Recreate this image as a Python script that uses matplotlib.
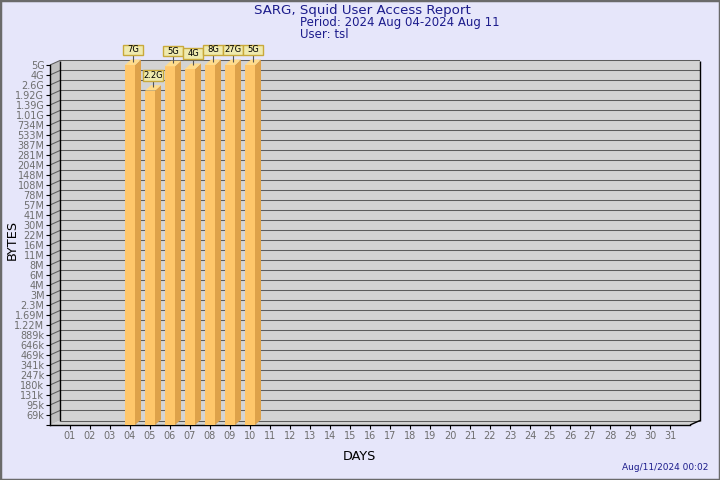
import numpy as np
import matplotlib
matplotlib.use('Agg')
import matplotlib.pyplot as plt
from matplotlib.patches import Polygon, Rectangle
from matplotlib.transforms import IdentityTransform
from matplotlib.ticker import NullLocator

# data
days = list(range(1, 32))
day_labels = ['%02d' % d for d in days]
bar_days = [4, 5, 6, 7, 8, 9, 10]
bar_bytes = [7.0e9, 2.2e9, 4.8e9, 4.4e9, 8.0e9, 27.0e9, 5.2e9]
bar_labels = ['7G', '2.2G', '5G', '4G', '8G', '27G', '5G']
y_labels = ['69k', '95k', '131k', '180k', '247k', '341k', '469k', '646k', '889k',
            '1.22M', '1.69M', '2.3M', '3M', '4M', '6M', '8M', '11M', '16M', '22M',
            '30M', '41M', '57M', '78M', '108M', '148M', '204M', '281M', '387M',
            '533M', '734M', '1.01G', '1.39G', '1.92G', '2.6G', '4G', '5G']

W, H = 720, 480
bg = '#e6e6fa'
navy = '#1c1c8c'
grid_c = '#5c5c5c'
wall_c = '#d3d3d3'
side_c = '#bfbfbf'
front_c = '#ffc76b'
dark_c = '#dea24a'
top_c = '#ffdc8c'
DX, DY = 10, 4.5      # depth of the box
BX, BY = 6, 5.5       # depth of the bars

fig = plt.figure(figsize=(7.2, 4.8), dpi=100, facecolor=bg)
ax = fig.add_axes([50 / W, (H - 425) / H, 640 / W, 360 / H])
ax.patch.set_visible(False)

yticks = np.geomspace(69e3, 5.0e9, len(y_labels))
ratio = yticks[1] / yticks[0]
lo, hi = yticks[0] / ratio, yticks[-1]
ax.set_yscale('log')
ax.set_xlim(0, 32)
ax.set_ylim(lo, hi)
ax.yaxis.set_minor_locator(NullLocator())
ax.set_yticks(list(yticks) + [lo], y_labels + [''])
ax.set_xticks(days, day_labels)
ax.tick_params(axis='y', length=3, width=0.8, pad=1, labelsize=7, labelcolor='#6e6e6e')
ax.tick_params(axis='x', length=3, width=0.8, pad=1.2, labelsize=7, labelcolor='#6e6e6e')
for s in ['top', 'right']:
    ax.spines[s].set_visible(False)
for s in ['left', 'bottom']:
    ax.spines[s].set_linewidth(1)
    ax.spines[s].set_zorder(2.5)

ident = IdentityTransform()


def poly(pts, fc, ec='none', lw=0.8, z=1):
    ax.add_patch(Polygon(pts, closed=True, facecolor=fc, edgecolor=ec, lw=lw,
                         transform=ident, clip_on=False, zorder=z))


def line(xs, ys, c=grid_c, lw=0.75, z=1.2):
    ax.plot(xs, ys, color=c, lw=lw, transform=ident, clip_on=False, zorder=z,
            solid_capstyle='butt')


(x0, y0) = ax.transAxes.transform((0, 0))
(x1, y1) = ax.transAxes.transform((1, 1))

# back wall, side wall, floor
poly([(x0 + DX, y0 + DY), (x1 + DX, y0 + DY), (x1 + DX, y1 + DY), (x0 + DX, y1 + DY)], wall_c, z=0.5)
poly([(x0, y0), (x0 + DX, y0 + DY), (x0 + DX, y1 + DY), (x0, y1)], side_c, z=0.6)
poly([(x0, y0), (x1, y0), (x1 + DX, y0 + DY), (x0 + DX, y0 + DY)], wall_c, z=0.7)

for t in yticks:
    yy = ax.transData.transform((0, t))[1]
    line([x0, x0 + DX, x1 + DX], [yy, yy + DY, yy + DY])
line([x0 + DX, x0 + DX], [y0 + DY, y1 + DY], c='black', lw=1)
line([x1 + DX, x1 + DX], [y0 + DY, y1 + DY], c='black', lw=1)
line([x0 + DX, x1 + DX], [y0 + DY, y0 + DY])
line([x1, x1 + DX], [y0, y0 + DY], c='black', lw=1, z=2.5)

# bars
heights = [min(v, hi) - lo for v in bar_bytes]
bars = ax.bar(bar_days, heights, bottom=lo, width=0.5, color=front_c,
              edgecolor='none', zorder=3)
for b, lab in zip(bars, bar_labels):
    (bl, bb), (br, bt) = b.get_window_extent().get_points()
    poly([(br, bb), (br + BX, bb + BY), (br + BX, bt + BY), (br, bt)], dark_c, z=3)
    poly([(bl, bt), (br, bt), (br + BX, bt + BY), (bl + BX, bt + BY)], top_c, z=3)
    cx = (bl + br) / 2 + BX / 2
    ytop = bt + BY
    bw, bh = 20, 10.5
    ybox = ytop + 4.5
    line([cx, cx], [ytop - 2, ybox], c='#555555', lw=0.8, z=3.5)
    ax.add_patch(Rectangle((cx - bw / 2, ybox), bw, bh, facecolor='#efeaae',
                           edgecolor='#c9a93a', lw=1, transform=ident,
                           clip_on=False, zorder=4))
    ax.text(cx, ybox + bh / 2, lab, transform=ident, ha='center', va='center',
            fontsize=6, color='black', zorder=5)

# texts
fig.text(362 / W, 1 - 10.5 / H, 'SARG, Squid User Access Report', ha='center',
         va='center', fontsize=9.6, color=navy)
fig.text(300 / W, 1 - 28.5 / H, 'Period: 2024 Aug 04-2024 Aug 11\nUser: tsl',
         ha='left', va='center', fontsize=8.5, color=navy, linespacing=0.92)
fig.text(12 / W, 1 - 240 / H, 'BYTES', rotation=90, ha='center', va='center',
         fontsize=9.3, color='black')
fig.text(359 / W, 1 - 456 / H, 'DAYS', ha='center', va='center', fontsize=9.3,
         color='black')
fig.text(708 / W, 1 - 467 / H, 'Aug/11/2024 00:02', ha='right', va='center',
         fontsize=6.5, color=navy)

fig.add_artist(Rectangle((0, 0), 1, 1, transform=fig.transFigure, fill=False,
                         edgecolor='#6a6a6a', lw=2.5))

fig.savefig('out.png', dpi=100, facecolor=bg)
